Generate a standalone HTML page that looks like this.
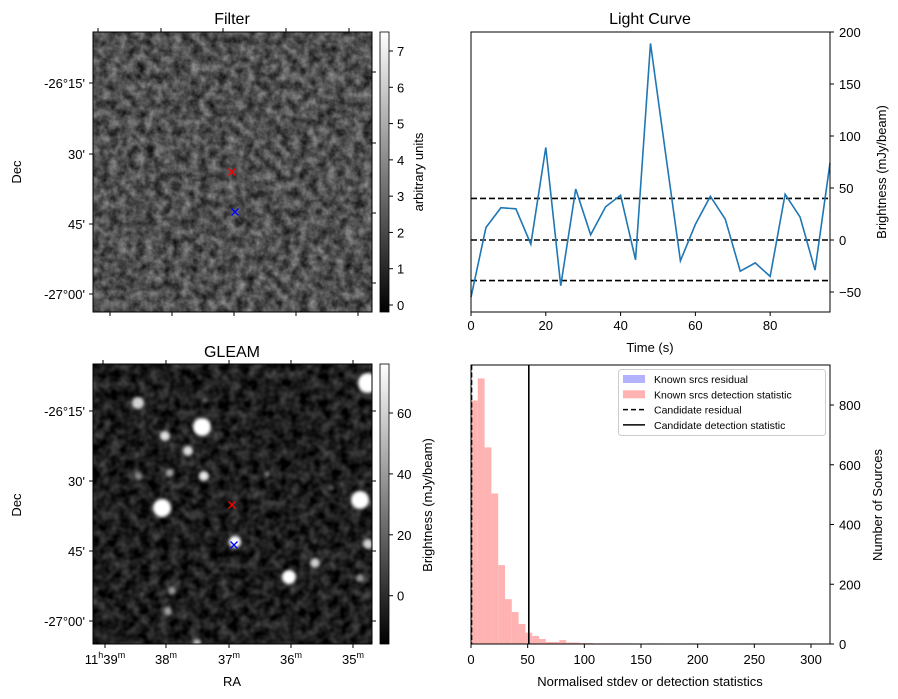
<!DOCTYPE html>
<html><head><meta charset="utf-8"><style>
html,body{margin:0;padding:0;background:#fff;}
svg{display:block;font-family:"Liberation Sans","DejaVu Sans",sans-serif;}
</style></head><body>
<svg id="fig" width="898" height="699" viewBox="0 0 898 699" xmlns="http://www.w3.org/2000/svg">
<defs>
<filter id="noiseA" x="0" y="0" width="100%" height="100%" color-interpolation-filters="sRGB">
<feTurbulence type="fractalNoise" baseFrequency="0.11" numOctaves="3" seed="3"/>
<feColorMatrix type="matrix" values="0.62 0 0 0 0.0  0.62 0 0 0 0.0  0.62 0 0 0 0.0  0 0 0 0 1"/>
</filter>
<filter id="noiseB" x="0" y="0" width="100%" height="100%" color-interpolation-filters="sRGB">
<feTurbulence type="fractalNoise" baseFrequency="0.1" numOctaves="2" seed="8"/>
<feColorMatrix type="matrix" values="0.45 0 0 0 -0.11  0.45 0 0 0 -0.11  0.45 0 0 0 -0.11  0 0 0 0 1"/>
</filter>
<filter id="blobblur"><feGaussianBlur stdDeviation="1.6"/></filter>
<linearGradient id="cbgrad" x1="0" y1="1" x2="0" y2="0"><stop offset="0" stop-color="#000"/><stop offset="1" stop-color="#fff"/></linearGradient>
<clipPath id="clipG"><rect x="93" y="364" width="279" height="280"/></clipPath>
</defs>
<g id="layer"></g>
</svg>
<script>
// Light curve data
const lcTimes = [0,4,8,12,16,20,24,28,32,36,40,44,48,52,56,60,64,68,72,76,80,84,88,92,96];
const lcValues = [-55,12,31,30,-4,89,-44,49,5,32,43,-19,189,84,-20,15,42,20,-30,-22,-35,44,22,-29,74];
const lcThresholds = [40,0,-39];
const lcYTicks = [-50,0,50,100,150,200];
const lcXTicks = [0,20,40,60,80];
// Histogram data (bin width 6)
const histBinStart = [0,6,12,18,24,30,36,42,48,54,60,66,72,78,84,90,96,102,108,114,120,126,132,138,156,162,192,240,300];
const histCounts = [815,889,658,504,264,150,107,67,38,27,17,7,7,13,5,5,3,3,2,2,2,2,2,2,2,2,2,2,2];
const histBinWidth = 6;
const candResidual = 0.5;
const candStat = 51;
const histXTicks = [0,50,100,150,200,250,300];
const histYTicks = [0,200,400,600,800];
// Colorbar ticks
const filterCbTicks = [0,1,2,3,4,5,6,7];
const gleamCbTicks = [0,20,40,60];
const decLabels = ["-26°15'","30'","45'","-27°00'"];
const raLabels = ["39","38","37","36","35"];

const NS="http://www.w3.org/2000/svg";
const L=document.getElementById('layer');
function mk(tag,attrs,parent){const e=document.createElementNS(NS,tag);for(const k in attrs)e.setAttribute(k,attrs[k]);(parent||L).appendChild(e);return e;}
function txt(x,y,s,size,anchor,parent,rot){const t=mk('text',{x:x,y:y,'font-size':size,'text-anchor':anchor||'middle',fill:'#000'},parent);if(rot)t.setAttribute('transform','rotate('+rot+' '+x+' '+y+')');t.textContent=s;return t;}
const fmt=v=>v<0?'\u2212'+Math.abs(v):String(v);

// ---------- Filter image ----------
let g=mk('g',{});


let r=mk('rect',{x:93,y:32,width:279,height:280,fill:'#444',filter:'url(#noiseA)'},g);


mk('rect',{x:93,y:32,width:279,height:280,fill:'none',stroke:'#000','stroke-width':1},g);
let t=txt(232,24,'Filter',16,'middle',g);


[83,154,224,294].forEach((y,i)=>{mk('line',{x1:89,y1:y,x2:93,y2:y,stroke:'#000'},g);mk('line',{x1:372,y1:y-11,x2:376,y2:y-11,stroke:'#000'},g);const tl=txt(85,y+5,decLabels[i],13,'end',g);});
[98,161,223,286,349].forEach(x=>mk('line',{x1:x,y1:28,x2:x,y2:32,stroke:'#000'},g));
[110,172,234,296,358].forEach(x=>mk('line',{x1:x,y1:312,x2:x,y2:316,stroke:'#000'},g));
t=txt(21,172,'Dec',13,'middle',g,-90);


function cross(x,y,c,p,name){const gg=mk('g',{stroke:c,'stroke-width':1.3},p);mk('line',{x1:x-3.5,y1:y-3.5,x2:x+3.5,y2:y+3.5},gg);mk('line',{x1:x-3.5,y1:y+3.5,x2:x+3.5,y2:y-3.5},gg);}
cross(232,172,'#f00',g,'candidate-marker');
cross(235,212,'#00f',g,'source-marker');
let cb=mk('rect',{x:380,y:32,width:9,height:280,fill:'url(#cbgrad)',stroke:'#000','stroke-width':0.8},g);


const fcb=v=>305-(v/7)*(305-51);
filterCbTicks.forEach(v=>{const y=fcb(v);mk('line',{x1:389,y1:y,x2:393,y2:y,stroke:'#000'},g);const tl=txt(397,y+5,String(v),13,'start',g);});
t=txt(423,172,'arbitrary units',13,'middle',g,-90);



// ---------- GLEAM image ----------
g=mk('g',{});


const gi=mk('g',{'clip-path':'url(#clipG)'},g);
r=mk('rect',{x:93,y:364,width:279,height:280,fill:'#222',filter:'url(#noiseB)'},gi);


const blobs=[[368,383,10,1],[202,427,9,1],[162,508,9,1],[360,500,9,1],[289,577,7,1],[235,542,6,1],[138,403,6,.8],[165,436,5,.85],[188,451,5,.85],[204,476,5,.9],[170,473,4,.6],[315,563,5,.8],[368,544,5,.8],[360,578,4,.55],[172,591,4,.55],[168,611,4,.55],[139,476,4,.45],[197,643,4,.7],[205,400,3,.35],[267,474,3,.35],[331,487,3,.3]];
const bg=mk('g',{filter:'url(#blobblur)'},gi);
blobs.forEach(b=>{const c=mk('circle',{cx:b[0],cy:b[1],r:b[2],fill:'#fff','fill-opacity':b[3]},bg);});
mk('rect',{x:93,y:364,width:279,height:280,fill:'none',stroke:'#000','stroke-width':1},g);
t=txt(232,357,'GLEAM',16,'middle',g);


[411,481,551,621].forEach((y,i)=>{mk('line',{x1:89,y1:y,x2:93,y2:y,stroke:'#000'},g);mk('line',{x1:372,y1:y,x2:376,y2:y,stroke:'#000'},g);const tl=txt(85,y+5,decLabels[i],13,'end',g);});
[103,166,229,291,353].forEach(x=>mk('line',{x1:x,y1:360,x2:x,y2:364,stroke:'#000'},g));
[105,166,229,291,353].forEach((x,i)=>{mk('line',{x1:x,y1:644,x2:x,y2:648,stroke:'#000'},g);
 const tl=mk('text',{x:x,y:664,'font-size':13,'text-anchor':'middle'},g);
 if(i===0){tl.innerHTML='11<tspan font-size="9" dy="-6">h</tspan><tspan dy="6">'+raLabels[i]+'</tspan><tspan font-size="9" dy="-6">m</tspan>';}
 else{tl.innerHTML=raLabels[i]+'<tspan font-size="9" dy="-6">m</tspan>';}});
t=txt(232,686,'RA',13,'middle',g);


t=txt(21,505,'Dec',13,'middle',g,-90);


cross(232,505,'#f00',g,'candidate-marker');
cross(234,545,'#00f',g,'source-marker');
cb=mk('rect',{x:380,y:364,width:9,height:280,fill:'url(#cbgrad)',stroke:'#000','stroke-width':0.8},g);


const gcb=v=>595.7-(v/60)*(595.7-413);
gleamCbTicks.forEach(v=>{const y=gcb(v);mk('line',{x1:389,y1:y,x2:393,y2:y,stroke:'#000'},g);const tl=txt(397,y+5,String(v),13,'start',g);});
t=txt(432,505,'Brightness (mJy/beam)',13,'middle',g,-90);



// ---------- Light curve ----------
g=mk('g',{});


const lx=v=>471+(v/96)*(830-471);
const ly=v=>240-v*(240-32)/200;
lcThresholds.forEach(v=>{const l=mk('line',{x1:471,y1:ly(v),x2:830,y2:ly(v),stroke:'#000','stroke-width':1.6,'stroke-dasharray':'6,3'},g);});
const pl=mk('polyline',{points:lcTimes.map((tt,i)=>lx(tt)+','+ly(lcValues[i])).join(' '),fill:'none',stroke:'#1f77b4','stroke-width':1.6},g);


mk('rect',{x:471,y:32,width:359,height:280,fill:'none',stroke:'#000','stroke-width':1},g);
lcYTicks.forEach(v=>{const y=ly(v);mk('line',{x1:830,y1:y,x2:834,y2:y,stroke:'#000'},g);const tl=txt(839,y+5,fmt(v),13,'start',g);});
lcXTicks.forEach(v=>{const x=lx(v);mk('line',{x1:x,y1:312,x2:x,y2:316,stroke:'#000'},g);const tl=txt(x,330,String(v),13,'middle',g);});
t=txt(650,24,'Light Curve',16,'middle',g);


t=txt(650,352,'Time (s)',13,'middle',g);


t=txt(886,172,'Brightness (mJy/beam)',13,'middle',g,-90);



// ---------- Histogram ----------
g=mk('g',{});


const hx=v=>471+v*(811-471)/300;
const hy=v=>644-v*(644-405)/800;
histBinStart.forEach((b,i)=>{const x0=hx(b),x1=hx(b+histBinWidth),y=hy(histCounts[i]);const br=mk('rect',{x:x0,y:y,width:x1-x0,height:644-y,fill:'#ffb2b2'},g);});
let cl=mk('line',{x1:hx(candResidual),y1:365,x2:hx(candResidual),y2:644,stroke:'#000','stroke-width':1.5,'stroke-dasharray':'5,2.5'},g);


cl=mk('line',{x1:hx(candStat),y1:365,x2:hx(candStat),y2:644,stroke:'#000','stroke-width':1.6},g);


mk('rect',{x:471,y:365,width:359,height:279,fill:'none',stroke:'#000','stroke-width':1},g);
histYTicks.forEach(v=>{const y=hy(v);mk('line',{x1:830,y1:y,x2:834,y2:y,stroke:'#000'},g);const tl=txt(839,y+5,String(v),13,'start',g);});
histXTicks.forEach(v=>{const x=hx(v);mk('line',{x1:x,y1:644,x2:x,y2:648,stroke:'#000'},g);const tl=txt(x,664,String(v),13,'middle',g);});
t=txt(650,686,'Normalised stdev or detection statistics',13,'middle',g);


t=txt(882,505,'Number of Sources',13,'middle',g,-90);


const lg=mk('g',{},g);


mk('rect',{x:618.5,y:369.5,width:207,height:66,rx:3,fill:'#fff','fill-opacity':0.8,stroke:'#ccc'},lg);
const entries=[['patch','#b2b2ff','Known srcs residual'],['patch','#ffb2b2','Known srcs detection statistic'],['dash','#000','Candidate residual'],['line','#000','Candidate detection statistic']];
entries.forEach((e,i)=>{const y=379+i*15.3;
 const eg=mk('g',{},lg);
 if(e[0]==='patch')mk('rect',{x:623,y:y-4,width:22,height:8,fill:e[1]},eg);
 else mk('line',{x1:623,y1:y,x2:645,y2:y,stroke:'#000','stroke-width':1.5,'stroke-dasharray':e[0]==='dash'?'5,3':'none'},eg);
 txt(654,y+4,e[2],10.5,'start',eg);});
</script>
</body></html>
